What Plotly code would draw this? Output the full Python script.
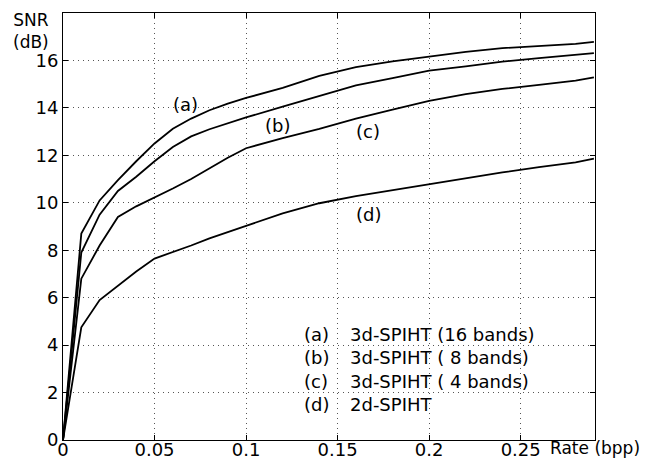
import plotly.graph_objects as go

# ---- data ----
rate = [0, 0.01, 0.02, 0.03, 0.04, 0.05, 0.06, 0.07, 0.08, 0.09, 0.10,
        0.12, 0.14, 0.16, 0.18, 0.20, 0.22, 0.24, 0.26, 0.28, 0.29]
snr_a = [0, 8.7, 10.1, 10.95, 11.75, 12.5, 13.12, 13.55, 13.9, 14.18, 14.42,
         14.84, 15.35, 15.72, 15.96, 16.17, 16.36, 16.52, 16.6, 16.7, 16.78]
snr_b = [0, 7.9, 9.5, 10.5, 11.1, 11.75, 12.35, 12.8, 13.1, 13.35, 13.6,
         14.05, 14.5, 14.95, 15.25, 15.57, 15.75, 15.95, 16.1, 16.22, 16.31]
snr_c = [0, 6.8, 8.2, 9.4, 9.85, 10.22, 10.6, 11.0, 11.45, 11.9, 12.3,
         12.73, 13.12, 13.55, 13.93, 14.3, 14.58, 14.8, 14.97, 15.15, 15.29]
snr_d = [0, 4.75, 5.9, 6.5, 7.1, 7.65, 7.92, 8.2, 8.5, 8.75, 9.03,
         9.55, 9.98, 10.28, 10.53, 10.79, 11.05, 11.28, 11.5, 11.7, 11.86]

series_names = ["3d-SPIHT (16 bands)", "3d-SPIHT ( 8 bands)",
                "3d-SPIHT ( 4 bands)", "2d-SPIHT"]
curve_tags = ["(a)", "(b)", "(c)", "(d)"]
tag_x = [0.0668, 0.117, 0.1667, 0.167]
tag_y = [14.15, 13.25, 13.0, 9.49]

x_ticks = [0, 0.05, 0.1, 0.15, 0.2, 0.25]
x_tick_text = ["0", "0.05", "0.1", "0.15", "0.2", "0.25"]
y_ticks = [0, 2, 4, 6, 8, 10, 12, 14, 16]

FONT = "DejaVu Sans"
FS = 18
TXT = dict(family=FONT, size=FS, color="black")
TXT_S = dict(family=FONT, size=17, color="black")

fig = go.Figure()
for name, ys in zip(series_names, [snr_a, snr_b, snr_c, snr_d]):
    fig.add_trace(go.Scatter(x=rate, y=ys, mode="lines", name=name,
                             line=dict(color="black", width=1.8),
                             showlegend=False))

annotations = []
for t, xx, yy in zip(curve_tags, tag_x, tag_y):
    annotations.append(dict(x=xx, y=yy, xref="x", yref="y", text=t,
                            xanchor="center", yanchor="middle",
                            showarrow=False, font=TXT))

# legend-like text block inside the axes
leg_y = [4.46, 3.47, 2.46, 1.48]
for t, name, yy in zip(curve_tags, series_names, leg_y):
    annotations.append(dict(x=0.1308, y=yy, xref="x", yref="y", text=t,
                            xanchor="left", yanchor="middle", showarrow=False, font=TXT))
    annotations.append(dict(x=0.1555, y=yy, xref="x", yref="y", text=name,
                            xanchor="left", yanchor="middle", showarrow=False, font=TXT))

# axis captions
annotations.append(dict(x=-0.061, y=1.0117, xref="paper", yref="paper", text="SNR<br>(dB)",
                        xanchor="center", yanchor="top", align="center",
                        showarrow=False, font=TXT_S))
annotations.append(dict(x=0.2647, y=-0.0187, xref="x", yref="paper", text="Rate (bpp)",
                        xanchor="left", yanchor="middle", showarrow=False, font=TXT_S))

axis_common = dict(showline=True, linecolor="black", linewidth=1, mirror="ticks",
                   ticks="inside", ticklen=5, tickcolor="black",
                   showgrid=True, gridcolor="#555555", gridwidth=1, griddash="1px,4px",
                   zeroline=False, automargin=False,
                   tickfont=TXT)

# the page body has an 8px default margin, so the figure is offset by 8px
fig.update_layout(
    width=641, height=458,
    margin=dict(l=55, r=54, t=5, b=26),
    paper_bgcolor="white", plot_bgcolor="white",
    xaxis=dict(range=[0, 0.2906], tickvals=x_ticks, ticktext=x_tick_text,
               ticklabelstandoff=-7, **axis_common),
    yaxis=dict(range=[0, 18], tickvals=y_ticks, **axis_common),
    annotations=annotations,
)

fig.write_html("out.html")
